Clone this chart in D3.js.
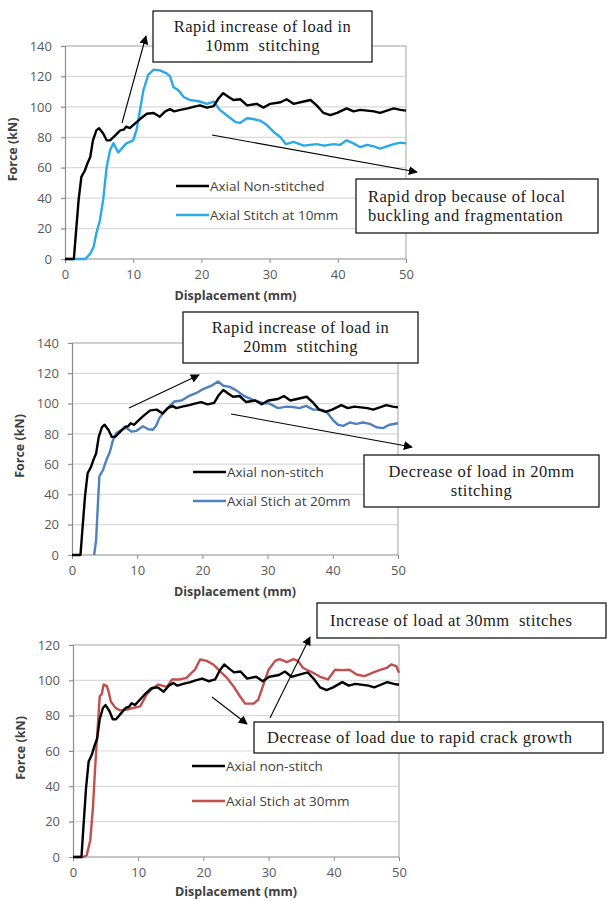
<!DOCTYPE html>
<html>
<head>
<meta charset="utf-8">
<script src="https://cdn.jsdelivr.net/npm/d3@7"></script>
<style>
  body { margin: 0; background: #fff; }
  svg { display: block; }
  .tick-label { font-family: "Open Sans", sans-serif; font-size: 13px; fill: #595959; }
  .axis-title { font-family: "Open Sans", sans-serif; font-size: 12.5px; font-weight: bold; fill: #404040; }
  .legend-label { font-family: "Open Sans", sans-serif; font-size: 13.5px; fill: #404040; }
  .note { font-family: "Liberation Serif", serif; font-size: 16.5px; letter-spacing: 0.5px; fill: #1a1a1a; }
</style>
</head>
<body>
<script>
// axis ticks
const displacementTicks = [0, 10, 20, 30, 40, 50];
const forceTicksTall = [0, 20, 40, 60, 80, 100, 120, 140];
const forceTicksShort = [0, 20, 40, 60, 80, 100, 120];

// [displacement mm, force kN]
const nonStitched = [
  [0, 0], [1.3, 0], [1.6, 17], [2, 39], [2.4, 54], [2.9, 58], [3.3, 63], [3.7, 67],
  [4.1, 78], [4.6, 84.5], [5, 86], [5.6, 82.5], [6.1, 78], [6.6, 78], [7.3, 81],
  [8.1, 84.5], [8.6, 85], [9, 87], [9.5, 86], [10, 88], [11, 92], [12, 95.5], [13, 96],
  [13.9, 93.5], [14.7, 97], [15.4, 98.5], [16, 97], [16.9, 98], [18, 99], [18.8, 100],
  [19.8, 101], [20.8, 99.5], [21.8, 100.5], [22.5, 105.5], [23.2, 109], [24, 106.5],
  [24.7, 104.5], [25.7, 105], [26.7, 101], [28.1, 102], [29.1, 99.5], [30.1, 102],
  [31.6, 103], [32.5, 105], [33.5, 102], [35, 103.5], [36, 104.5], [36.9, 101],
  [37.9, 96], [38.9, 94.5], [39.9, 96], [41.3, 99], [42.3, 97], [43.3, 98], [45.3, 97],
  [46.2, 96], [47.2, 97.5], [48.2, 99], [49.2, 98], [50, 97.5]
];

const stitch10 = [
  [0, 0], [3, 0], [3.7, 3.5], [4.2, 8], [4.6, 17], [5.1, 25], [5.6, 39], [6.1, 60],
  [6.6, 71.5], [7.1, 76], [7.8, 70], [8.6, 74], [9, 76], [10, 78], [10.5, 85], [11, 98],
  [11.5, 111], [12.2, 121], [13, 124.5], [13.9, 124], [14.9, 122], [15.4, 120],
  [15.9, 113], [16.6, 111], [17.4, 106.5], [18.3, 104.5], [19.8, 103.5], [20.8, 102],
  [21.8, 103.5], [22.7, 98], [23.7, 94.5], [25, 90], [25.7, 89.5], [26.7, 92.5],
  [27.6, 92], [28.6, 91], [29.6, 88], [30.6, 83.5], [31.6, 80], [32.4, 75.5], [33.5, 77],
  [35, 74.5], [36.9, 75.5], [38, 74.5], [39.4, 75.5], [40.3, 75], [41.3, 78], [42.3, 76],
  [43.3, 73.5], [44.3, 75], [45.3, 74], [46.2, 72.5], [47.2, 74], [48.2, 75.5], [49.2, 76.5],
  [50, 76]
];

const stitch20 = [
  [3.4, 0], [3.7, 10], [4, 36], [4.2, 52], [4.75, 56], [5.3, 63], [5.8, 68], [6.3, 76],
  [6.8, 80.5], [7.6, 82.7], [8.3, 84], [9.1, 81.5], [9.9, 82], [10.9, 85], [11.7, 83],
  [12.4, 82.7], [12.9, 85.3], [13.4, 90.4], [14.2, 94.8], [15, 98.5], [15.7, 101.4],
  [16.8, 102], [17.8, 104.7], [19.1, 107], [20.1, 109.6], [21.4, 111.8], [22.4, 114.6],
  [23.2, 111.8], [24.2, 111], [25.2, 108.7], [26.5, 104.7], [27.8, 102.5], [29.3, 100.3],
  [30.3, 100], [31.6, 97], [32.9, 98], [33.9, 97.7], [34.9, 97], [35.9, 98.5], [37, 96],
  [38.2, 96], [39, 94.8], [40, 89.3], [40.8, 86], [41.6, 85.3], [42.6, 87.5], [43.6, 86.6],
  [44.6, 87.5], [45.7, 86.6], [46.7, 84.4], [47.7, 83.8], [48.7, 86], [50, 87]
];

const stitch30 = [
  [0, 0], [1.6, 0], [2.1, 1], [2.65, 9.5], [3.06, 28], [3.4, 51], [3.8, 74], [4.1, 91],
  [4.4, 92], [4.7, 97.6], [5.2, 96.7], [5.5, 93], [5.8, 88], [6.5, 84.4], [7.2, 83],
  [8.3, 83.4], [9.3, 84.4], [10.3, 85.3], [11.3, 92], [12.3, 95.8], [13.1, 97.6],
  [14.4, 96.3], [15.2, 100.5], [16.4, 100.5], [17.4, 101.4], [18.7, 106], [19.5, 111.8],
  [20.5, 111], [21.5, 109], [22.6, 105], [23.6, 101.4], [24.6, 96.7], [25.6, 91],
  [26.4, 86.8], [27.7, 86.8], [28.4, 89], [29.2, 97.6], [30, 106], [31, 111], [31.7, 112],
  [32.8, 110.3], [33.8, 112], [34.5, 111], [35.3, 107], [36.6, 104.7], [37.9, 102],
  [39.1, 100.5], [40.2, 106], [41.4, 105.8], [42.4, 106], [43.5, 103.3], [44.7, 102.4],
  [46, 104.3], [47, 105.8], [48.1, 107], [48.8, 109], [49.6, 108], [50, 104.3]
];

const svg = d3.select('body')
  .append('svg')
  .attr('width', 607)
  .attr('height', 901);

svg.append('defs')
  .append('marker')
    .attr('id', 'arrow')
    .attr('viewBox', '0 0 10 10')
    .attr('refX', 9)
    .attr('refY', 5)
    .attr('markerWidth', 9)
    .attr('markerHeight', 9)
    .attr('markerUnits', 'userSpaceOnUse')
    .attr('orient', 'auto')
  .append('path')
    .attr('d', 'M0,0L10,5L0,10Z')
    .attr('fill', '#000');

const panels = [
  {
    left: 65, right: 406, top: 46, bottom: 259, yMax: 140, yTicks: forceTicksTall,
    legendX: 176, legendY: 186,
    series: [
      { name: 'Axial Non-stitched', data: nonStitched, color: '#000000' },
      { name: 'Axial Stitch at 10mm', data: stitch10, color: '#2aaae2' }
    ]
  },
  {
    left: 72, right: 398, top: 343, bottom: 555, yMax: 140, yTicks: forceTicksTall,
    legendX: 193, legendY: 472,
    series: [
      { name: 'Axial non-stitch', data: nonStitched, color: '#000000' },
      { name: 'Axial Stich at 20mm', data: stitch20, color: '#4f81bd' }
    ]
  },
  {
    left: 73, right: 399, top: 645, bottom: 857, yMax: 120, yTicks: forceTicksShort,
    legendX: 192, legendY: 766,
    series: [
      { name: 'Axial non-stitch', data: nonStitched, color: '#000000' },
      { name: 'Axial Stich at 30mm', data: stitch30, color: '#c0504d' }
    ]
  }
];

function drawPanel (p) {
  const x = d3.scaleLinear([0, 50], [p.left, p.right]);
  const y = d3.scaleLinear([0, p.yMax], [p.bottom, p.top]);
  const g = svg.append('g').attr('class', 'panel');

  // gridlines
  g.selectAll('line.grid')
    .data(p.yTicks.filter(t => t > 0))
    .enter()
      .append('line')
      .attr('class', 'grid')
      .attr('x1', p.left - 4)
      .attr('x2', p.right)
      .attr('y1', d => y(d))
      .attr('y2', d => y(d))
      .attr('stroke', '#d9d9d9')
      .attr('stroke-width', 1.2);

  // plot border (right + top)
  g.append('path')
    .attr('d', `M${p.left},${p.top}H${p.right}V${p.bottom}`)
    .attr('fill', 'none')
    .attr('stroke', '#b3b3b3')
    .attr('stroke-width', 1.2);

  // axes
  const yAxis = d3.axisLeft(y).tickValues(p.yTicks).tickSize(4).tickPadding(9);
  const xAxis = d3.axisBottom(x).tickValues(displacementTicks).tickSize(4).tickPadding(7);

  const ya = g.append('g').attr('transform', `translate(${p.left},0)`).call(yAxis);
  const xa = g.append('g').attr('transform', `translate(0,${p.bottom})`).call(xAxis);
  [ya, xa].forEach(a => {
    a.select('.domain').attr('stroke', '#8c8c8c').attr('stroke-width', 1.2);
    a.selectAll('.tick line').attr('stroke', '#8c8c8c');
    a.selectAll('.tick text').attr('class', 'tick-label').attr('font-family', null).attr('font-size', null).attr('fill', null);
  });
  xa.select('.domain').attr('d', `M${p.left},0H${p.right}`);

  // titles
  g.append('text')
    .attr('class', 'axis-title')
    .attr('x', (p.left + p.right) / 2)
    .attr('y', Math.min(p.bottom + 41, 896))
    .attr('text-anchor', 'middle')
    .text('Displacement (mm)');

  g.append('text')
    .attr('class', 'axis-title')
    .attr('transform', `translate(${p.left - 48},${(p.top + p.bottom) / 2 - 3}) rotate(-90)`)
    .attr('text-anchor', 'middle')
    .text('Force (kN)');

  // series
  const line = d3.line()
    .x(d => x(d[0]))
    .y(d => y(d[1]));

  const drawOrder = p.series.slice().reverse();
  g.selectAll('path.series')
    .data(drawOrder)
    .enter()
      .append('path')
      .attr('class', 'series')
      .attr('d', d => line(d.data))
      .attr('fill', 'none')
      .attr('stroke', d => d.color)
      .attr('stroke-width', 2.4)
      .attr('stroke-linejoin', 'round');

  // legend
  const lg = g.append('g').attr('transform', `translate(${p.legendX},${p.legendY})`);
  const items = lg.selectAll('g')
    .data(p.series)
    .enter()
      .append('g')
      .attr('transform', (d, i) => `translate(0,${i * (p.yMax === 120 ? 35 : 29)})`);
  items.append('line')
    .attr('x1', 0).attr('x2', 33)
    .attr('stroke', d => d.color)
    .attr('stroke-width', 2.4);
  items.append('text')
    .attr('class', 'legend-label')
    .attr('x', 34)
    .attr('dy', '0.35em')
    .text(d => d.name);
}

panels.forEach(drawPanel);

// annotations
const notes = [
  { box: [153, 11, 219, 51], lines: ['Rapid increase of load in', '10mm  stitching'], align: 'middle' },
  { box: [356, 179, 242, 54], lines: ['Rapid drop because of local', 'buckling and fragmentation'], align: 'start', tx: 368 },
  { box: [183, 312, 235, 51], lines: ['Rapid increase of load in', '20mm  stitching'], align: 'middle' },
  { box: [364, 455, 235, 52], lines: ['Decrease of load in 20mm', 'stitching'], align: 'middle' },
  { box: [317, 603, 289, 35], lines: ['Increase of load at 30mm  stitches'], align: 'start', tx: 330 },
  { box: [254, 722, 349, 31], lines: ['Decrease of load due to rapid crack growth'], align: 'start', tx: 267 }
];

const arrows = [
  [[122, 123], [146, 36]],
  [[212, 135], [417, 172]],
  [[129, 408], [199, 375]],
  [[231, 414], [412, 447]],
  [[212, 697], [247, 724]],
  [[270, 718], [310, 637]]
];

const ng = svg.append('g').attr('class', 'notes');
notes.forEach(n => {
  const [bx, by, bw, bh] = n.box;
  ng.append('rect')
    .attr('x', bx).attr('y', by)
    .attr('width', bw).attr('height', bh)
    .attr('fill', '#fff')
    .attr('stroke', '#1a1a1a')
    .attr('stroke-width', 1.3);
  const lineGap = 19;
  const firstY = by + bh / 2 - (n.lines.length - 1) * lineGap / 2;
  n.lines.forEach((t, i) => {
    ng.append('text')
      .attr('class', 'note')
      .attr('xml:space', 'preserve')
      .attr('x', n.align === 'middle' ? bx + bw / 2 : n.tx)
      .attr('y', firstY + i * lineGap)
      .attr('dy', '0.33em')
      .attr('text-anchor', n.align)
      .text(t);
  });
});

ng.selectAll('line.arrow')
  .data(arrows)
  .enter()
    .append('line')
    .attr('class', 'arrow')
    .attr('x1', d => d[0][0]).attr('y1', d => d[0][1])
    .attr('x2', d => d[1][0]).attr('y2', d => d[1][1])
    .attr('stroke', '#000')
    .attr('stroke-width', 1.1)
    .attr('marker-end', 'url(#arrow)');
</script>
</body>
</html>
